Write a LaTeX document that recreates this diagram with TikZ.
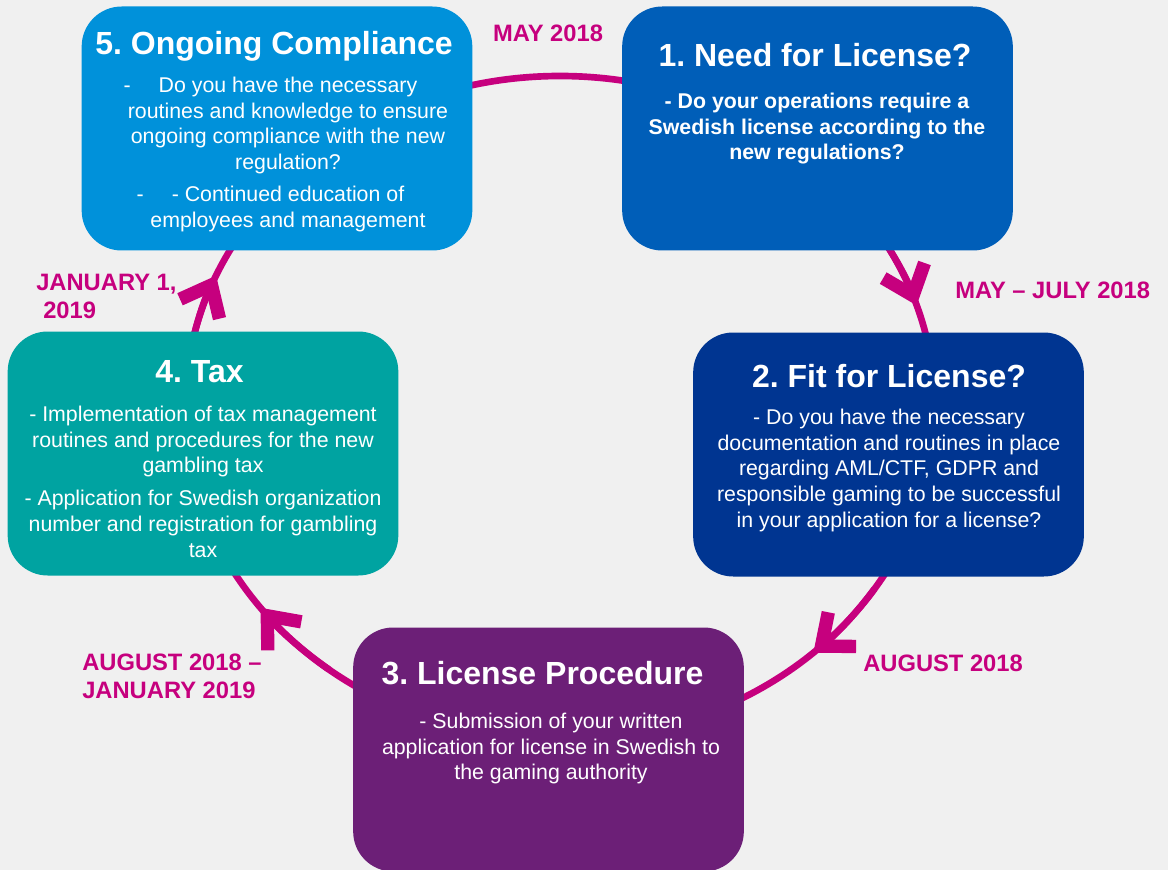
\documentclass[tikz,border=0pt]{standalone}
\usepackage{fontspec}
\setmainfont{Liberation Sans}
\usetikzlibrary{arrows.meta,calc}
\definecolor{bgc}{RGB}{240,240,240}
\definecolor{mag}{RGB}{198,0,126}
\definecolor{cA}{RGB}{0,94,184}
\definecolor{cB}{RGB}{0,53,145}
\definecolor{cC}{RGB}{108,31,119}
\definecolor{cD}{RGB}{0,163,161}
\definecolor{cE}{RGB}{0,145,218}
\begin{document}
\frenchspacing
\begin{tikzpicture}[x=0.75pt,y=-0.75pt,
  stagebox/.style={rounded corners=30pt, minimum width=293pt, minimum height=183pt, inner sep=0pt, draw=none},
  ttltext/.style={text=white, font=\fontsize{24}{28}\selectfont\bfseries\frenchspacing, anchor=base, inner sep=0pt},
  bodytext/.style={text=white, font=\fontsize{16}{19.3}\selectfont\frenchspacing, align=center, anchor=north, inner sep=0pt},
  datelabel/.style={text=mag, font=\fontsize{17.8}{21}\selectfont\bfseries, inner sep=0pt},
  ringline/.style={draw=mag, line width=5pt},
  ringarrow/.style={ringline, -{Straight Barb[sharp, length=20pt, width=33pt, line width=10pt]}}
]
\clip (0,0) rectangle (1168,870);
\fill[bgc] (0,0) rectangle (1168,870);

% cycle ring
\coordinate (O) at (560,408);
\draw[ringline] (O) ellipse [x radius=375, y radius=332];
\draw[ringarrow] ($(O)+(-33:375 and 332)$) arc[start angle=-33, end angle=-18, x radius=375, y radius=332];
\draw[ringarrow] ($(O)+(33:375 and 332)$) arc[start angle=33, end angle=47.5, x radius=375, y radius=332];
\draw[ringarrow] ($(O)+(128:375 and 332)$) arc[start angle=128, end angle=143, x radius=375, y radius=332];
\draw[ringarrow] ($(O)+(189:375 and 332)$) arc[start angle=189, end angle=203.5, x radius=375, y radius=332];

% boxes
\node[stagebox, fill=cE] (s5) at (277,128.5) {};
\node[stagebox, fill=cA] (s1) at (817.5,128.5) {};
\node[stagebox, fill=cB] (s2) at (888.5,454.5) {};
\node[stagebox, fill=cD] (s4) at (203,453.5) {};
\node[stagebox, fill=cC] (s3) at (548.5,749.5) {};

% titles
\node[ttltext] (t5) at (274,55) {5. Ongoing Compliance};
\node[ttltext] (t1) at (815,67) {1. Need for License?};
\node[ttltext] (t2) at (889,387) {2. Fit for License?};
\node[ttltext] (t4) at (199.5,382) {4. Tax};
\node[ttltext] (t3) at (542.5,684) {3. License Procedure};

% bodies
\node[bodytext] (d5) at (288,74) {\strut\llap{-\hspace{21pt}}Do you have the necessary\\ routines and knowledge to ensure\\ ongoing compliance with the new\\ regulation?\\[4.7pt] \llap{-\hspace{21pt}}- Continued education of\\ employees and management};
\node[bodytext, font=\fontsize{16}{19.3}\selectfont\bfseries] (d1) at (817,90) {\strut - Do your operations require a\\ Swedish license according to the\\ new regulations?};
\node[bodytext] (d2) at (889,406) {\strut - Do you have the necessary\\ documentation and routines in place\\ regarding AML/CTF, GDPR and\\ responsible gaming to be successful\\ in your application for a license?};
\node[bodytext] (d4) at (203,403) {\strut - Implementation of tax management\\ routines and procedures for the new\\ gambling tax\\[5.5pt] - Application for Swedish organization\\ number and registration for gambling\\ tax};
\node[bodytext] (d3) at (551,710) {\strut - Submission of your written\\ application for license in Swedish to\\ the gaming authority};

% dates
\node[datelabel, anchor=base] (m1) at (548,42) {MAY 2018};
\node[datelabel, anchor=base west] (m2) at (955,298) {MAY – JULY 2018};
\node[datelabel, anchor=base west] (m3) at (863,671) {AUGUST 2018};
\node[datelabel, anchor=north west, align=left] (m4) at (82,650.4) {\strut AUGUST 2018 –\\JANUARY 2019};
\node[datelabel, anchor=north west, align=left] (m5) at (36,270.4) {\strut JANUARY 1,\\\hspace*{5.25pt}2019};
\end{tikzpicture}
\end{document}
